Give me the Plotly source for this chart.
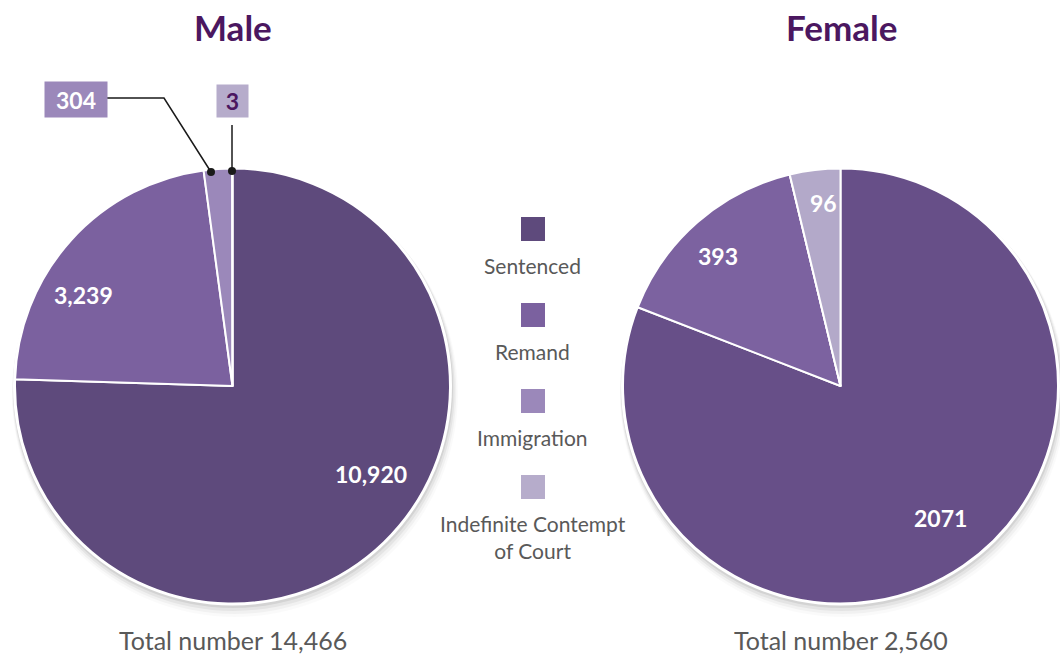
import plotly.graph_objects as go

W, H = 1060, 660

categories = ["Sentenced", "Remand", "Immigration", "Indefinite Contempt of Court"]
legend_labels = ["Sentenced", "Remand", "Immigration", "Indefinite Contempt<br>of Court"]
male_values = [10920, 3239, 304, 3]
female_values = [2071, 393, 0, 96]
male_label_text = ["10,920", "3,239", "304", "3"]
female_label_text = ["2071", "393", "", "96"]

male_colors = ["#5E4A7C", "#7B619F", "#9B88BA", "#B6ACCB"]
female_colors = ["#674F88", "#7C62A0", "#9B88BA", "#B3A9C9"]
legend_colors = ["#5E4A7C", "#7B619F", "#9B88BA", "#B6ACCB"]

TITLE_C = "#4B1760"
GRAY = "#595959"
FONT = "Lato"


def px(x, y):
    return x / W, 1 - y / H


def ann(x, y, text, font, **kw):
    a, b = px(x, y)
    d = dict(x=a, y=b, xref="paper", yref="paper", text=text, showarrow=False,
             xanchor="center", yanchor="middle", font=font)
    d.update(kw)
    return d


fig = go.Figure()

fig.add_trace(go.Pie(
    values=male_values, labels=categories, sort=False, direction="clockwise",
    rotation=0, textinfo="none", hoverinfo="skip",
    marker=dict(colors=male_colors, line=dict(color="white", width=2)),
    domain=dict(x=[15 / W, 450 / W], y=[1 - 604 / H, 1 - 168 / H]),
    showlegend=False,
))
fig.add_trace(go.Pie(
    values=female_values, labels=categories, sort=False, direction="clockwise",
    rotation=0, textinfo="none", hoverinfo="skip",
    marker=dict(colors=female_colors, line=dict(color="white", width=2)),
    domain=dict(x=[623 / W, 1058 / W], y=[1 - 604 / H, 1 - 168 / H]),
    showlegend=False,
))

# custom legend: squares stacked with labels below
fig.add_trace(go.Scatter(
    x=[0.5] * len(categories), y=list(range(len(categories))),
    mode="markers", marker=dict(symbol="square", size=24, color=legend_colors),
    hoverinfo="skip", text=categories, showlegend=False,
))

annotations = []
for i, lab in enumerate(legend_labels):
    annotations.append(dict(
        x=0.5, y=i, xref="x", yref="y", text=lab, showarrow=False,
        xanchor="center", yanchor="top", yshift=-22,
        font=dict(family=FONT, size=21, color=GRAY),
    ))

# titles
for name, cx in (("Male", 233), ("Female", 841)):
    annotations.append(ann(cx, 27, f"<b>{name}</b>", dict(family=FONT, size=35, color=TITLE_C)))

# totals
for vals, cx in ((male_values, 233), (female_values, 841)):
    annotations.append(ann(cx, 640, f"Total number {sum(vals):,}", dict(family=FONT, size=25, color=GRAY)))

# inside slice labels
inside = [
    (male_label_text[0], 371, 474),
    (male_label_text[1], 83, 295),
    (female_label_text[0], 940, 518),
    (female_label_text[1], 718, 256),
    (female_label_text[3], 823, 203),
]
for t, cx, cy in inside:
    annotations.append(ann(cx, cy, f"<b>{t}</b>", dict(family=FONT, size=23, color="white")))

# outside boxed labels for small male slices
annotations.append(ann(76, 99.5, f"<b>{male_label_text[2]}</b>", dict(family=FONT, size=23, color="white"),
                       bgcolor=male_colors[2], width=60, height=33, borderpad=1))
annotations.append(ann(232, 101, f"<b>{male_label_text[3]}</b>", dict(family=FONT, size=23, color=TITLE_C),
                       bgcolor=male_colors[3], width=29, height=30, borderpad=1))

shapes = []
# soft drop shadows under the pies
for cx in (232.5, 840.5):
    for off, extra, op in ((2, 2, 0.07), (4, 3, 0.05), (6, 4, 0.035), (8, 5, 0.02)):
        r = 218 + extra
        a, b = px(cx - r + off * 0.3, 386 - r + off)
        c, d = px(cx + r + off * 0.3, 386 + r + off)
        shapes.append(dict(type="circle", xref="paper", yref="paper", x0=a, y0=b, x1=c, y1=d,
                           fillcolor=f"rgba(0,0,0,{op})", line=dict(width=0), layer="below"))
    r = 219.5
    a, b = px(cx - r, 386 - r)
    c, d = px(cx + r, 386 + r)
    shapes.append(dict(type="circle", xref="paper", yref="paper", x0=a, y0=b, x1=c, y1=d,
                       fillcolor="white", line=dict(width=0), layer="below"))

# leader lines
p1, p2, p3 = px(107, 98), px(164, 98), px(211, 172)
shapes.append(dict(type="path", xref="paper", yref="paper",
                   path=f"M {p1[0]},{p1[1]} L {p2[0]},{p2[1]} L {p3[0]},{p3[1]}",
                   line=dict(color="#1A1A1A", width=1.5)))
q1, q2 = px(232, 125), px(232, 171)
shapes.append(dict(type="line", xref="paper", yref="paper", x0=q1[0], y0=q1[1], x1=q2[0], y1=q2[1],
                   line=dict(color="#1A1A1A", width=1.5)))
for cx, cy in ((211, 172), (232, 171)):
    a, b = px(cx - 4, cy - 4)
    c, d = px(cx + 4, cy + 4)
    shapes.append(dict(type="circle", xref="paper", yref="paper", x0=a, y0=b, x1=c, y1=d,
                       fillcolor="#1A1A1A", line=dict(width=0)))

fig.update_layout(
    width=W, height=H, margin=dict(l=0, r=0, t=0, b=0),
    paper_bgcolor="white", plot_bgcolor="rgba(0,0,0,0)",
    xaxis=dict(domain=[0.45283, 0.55283], range=[0, 1], visible=False, fixedrange=True),
    yaxis=dict(domain=[1 - 530 / H, 1 - 186 / H], range=[3.5, -0.5], visible=False, fixedrange=True),
    annotations=annotations, shapes=shapes,
    font=dict(family=FONT),
)

fig.write_html("out.html", config={"displayModeBar": False},
               post_script="document.body.style.margin='0';")
